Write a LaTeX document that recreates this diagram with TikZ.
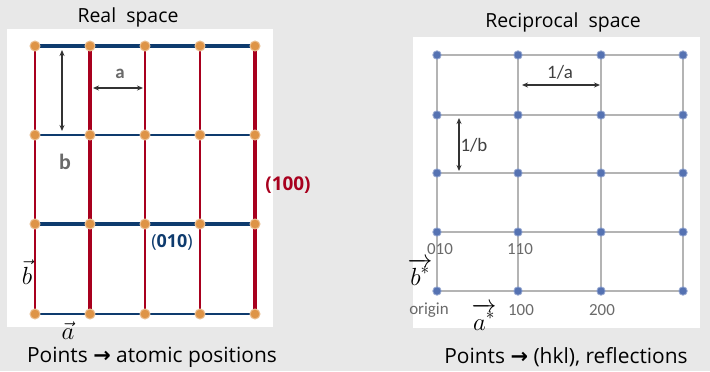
\documentclass[tikz,border=0pt]{standalone}
\usepackage{fontspec}
\setmainfont{Open Sans}
\newfontfamily\arrowfont{DejaVu Sans}
\newfontfamily\condfont{Carlito}
\usetikzlibrary{arrows.meta}
\definecolor{navy}{HTML}{0E3B6E}
\definecolor{crim}{HTML}{A8001E}
\definecolor{dotor}{HTML}{DE9447}
\definecolor{dotbl}{HTML}{5572B2}
\definecolor{bgc}{HTML}{E8E8E8}
\definecolor{gridg}{HTML}{B4B4B4}
\definecolor{lblg}{HTML}{6A6A6A}
\tikzset{
  odot/.style={circle,fill=dotor,draw=dotor!60!white,line width=1pt,minimum size=10bp,inner sep=0pt},
  bdot/.style={circle,fill=dotbl,draw=dotbl!60!white,line width=0.8pt,minimum size=8.5bp,inner sep=0pt},
  vthin/.style={crim,line width=2pt},
  vthick/.style={crim,line width=3.5pt},
  hthin/.style={navy,line width=2.5pt},
  hthick/.style={navy,line width=4pt},
  rgrid/.style={gridg,line width=1.6pt},
  dimarrow/.style={{Stealth[length=6bp,width=5bp]}-{Stealth[length=6bp,width=5bp]},line width=1.6pt,black!80},
  title/.style={font=\fontsize{19.5}{22}\selectfont,text=black,inner sep=0pt},
  bottom/.style={font=\fontsize{21}{24}\selectfont,text=black,inner sep=0pt},
  lbl/.style={font=\condfont\fontsize{17}{19}\selectfont,text=lblg,inner sep=0pt},
  vec/.style={font=\fontsize{24}{26}\selectfont,inner sep=0pt},
}
\begin{document}
\begin{tikzpicture}[x=1bp,y=-1bp]
\useasboundingbox (0,0) rectangle (710,371);
\fill[bgc] (0,0) rectangle (710,371);
\fill[white] (7,29) rectangle (273,327);
\fill[white] (413,37) rectangle (700,328);

% ---------- real space ----------
\foreach \x [count=\i] in {35,90,145,200,255}{
  \foreach \y [count=\j] in {46,135,224,314}{
    \coordinate (r-\i-\j) at (\x,\y);
  }
}
% vertical (100) lines
\draw[vthin]  (r-1-1) -- (r-1-4);
\draw[vthick] (r-2-1) -- (r-2-4);
\draw[vthin,line width=2.5pt] (r-3-1) -- (r-3-4);
\draw[vthin,line width=2.5pt] (r-4-1) -- (r-4-4);
\draw[vthick] (r-5-1) -- (r-5-4);
% horizontal (010) lines
\draw[hthick] (r-1-1) -- (r-5-1);
\draw[hthin]  (r-1-2) -- (r-5-2);
\draw[hthick] (r-1-3) -- (r-5-3);
\draw[hthin]  (r-1-4) -- (r-5-4);
\foreach \i in {1,...,5}{
  \foreach \j in {1,...,4}{
    \node[odot] (rd-\i-\j) at (r-\i-\j) {};
  }
}
\coordinate (bt) at (62,50); \coordinate (bb) at (62,131);
\draw[dimarrow] (bt) -- (bb);
\coordinate (al) at (93,88); \coordinate (ar) at (143,88);
\draw[dimarrow] (al) -- (ar);
\node[lbl,font=\condfont\bfseries\fontsize{19}{21}\selectfont] (la) at (120,74) {a};
\node[lbl,font=\condfont\bfseries\fontsize{22}{24}\selectfont] (lb) at (65,162) {b};
\node[font=\bfseries\fontsize{19}{21}\selectfont,text=crim,inner sep=0pt] (l100) at (288,185) {(100)};
\node[font=\fontsize{18}{20}\selectfont,text=navy,inner sep=0pt] (l010) at (172,242) {(\textbf{010})};
\node[vec] (vb) at (27,272) {$\vec{b}$};
\node[vec] (va) at (68,331) {$\vec{a}$};
\node[title] (trs) at (128,17) {Real\ \ space};
\node[bottom] (brs) at (152,357) {Points {\arrowfont\bfseries →} atomic positions};

% ---------- reciprocal space ----------
\foreach \x [count=\i] in {437,518,601,683}{
  \foreach \y [count=\j] in {55,115,173,232,291}{
    \coordinate (k-\i-\j) at (\x,\y);
  }
}
\foreach \i in {1,...,4}{ \draw[rgrid] (k-\i-1) -- (k-\i-5); }
\foreach \j in {1,...,5}{ \draw[rgrid] (k-1-\j) -- (k-4-\j); }
\foreach \i in {1,...,4}{
  \foreach \j in {1,...,5}{
    \node[bdot] (kd-\i-\j) at (k-\i-\j) {};
  }
}
\coordinate (ial) at (522,85); \coordinate (iar) at (600,85);
\draw[dimarrow] (ial) -- (iar);
\coordinate (ibt) at (459,118); \coordinate (ibb) at (459,171);
\draw[dimarrow] (ibt) -- (ibb);
\node[lbl,text=black!75,font=\condfont\fontsize{19}{21}\selectfont] (l1a) at (560,72) {1/a};
\node[lbl,text=black!75,font=\condfont\fontsize{19}{21}\selectfont] (l1b) at (474,145) {1/b};
\node[lbl] (h010) at (440,249) {010};
\node[lbl] (h110) at (520,249) {110};
\node[lbl] (horg) at (429,310) {origin};
\node[lbl] (h100) at (521,310) {100};
\node[lbl] (h200) at (602,310) {200};
\node[vec] (vbs) at (420,272) {$\overrightarrow{b^{*}}$};
\node[vec] (vas) at (484,317) {$\overrightarrow{a^{*}}$};
\node[title] (trc) at (563,22) {Reciprocal\ \ space};
\node[bottom] (brc) at (566,357) {Points {\arrowfont\bfseries →} (hkl), reflections};
\end{tikzpicture}
\end{document}
